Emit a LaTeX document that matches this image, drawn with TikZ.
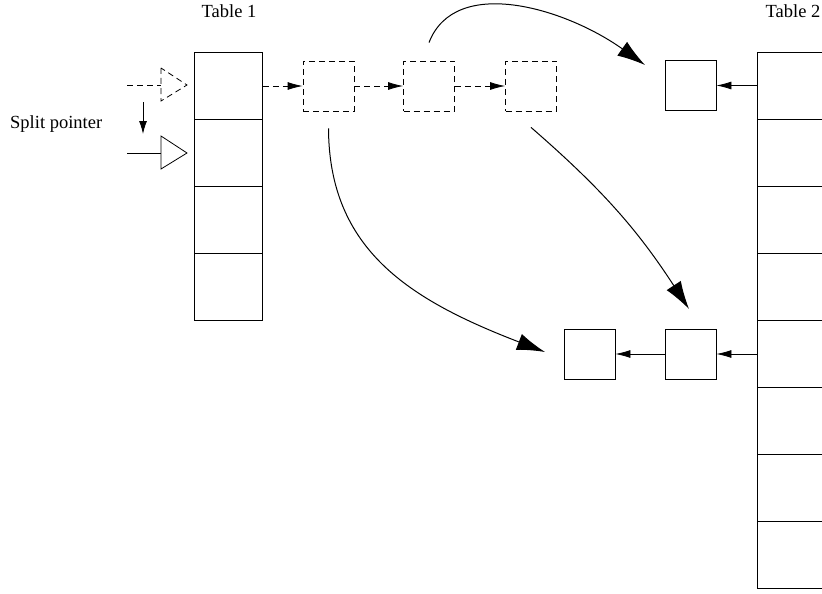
\documentclass[tikz,border=0pt]{standalone}
\usepackage{fontspec}
\setmainfont{Liberation Serif}
\usetikzlibrary{arrows.meta,calc}
\begin{document}
\begin{tikzpicture}[x=1pt,y=-1pt,
  cell/.style={draw,line width=0.9pt,minimum width=68pt,minimum height=67pt,inner sep=0pt,anchor=north west},
  sbox/.style={draw,line width=0.8pt,minimum width=51pt,minimum height=50pt,inner sep=0pt},
  dbox/.style={sbox,dash pattern=on 6pt off 4pt},
  small/.style={line width=0.8pt,-{Latex[length=15pt,width=8pt]}},
  big/.style={line width=1pt,-{Latex[length=28pt,width=17pt]}},
  lbl/.style={font=\fontsize{18.5}{22}\selectfont,inner sep=0pt}]
\useasboundingbox (0,0) rectangle (822,594);
% Table 1
\foreach \i in {1,...,4} {
  \node[cell] (ta\i) at (194,{52+67*(\i-1)}) {};
}
% Table 2 (clipped at right edge)
\begin{scope}
\clip (0,0) rectangle (822,594);
\foreach \i in {1,...,8} {
  \node[cell,minimum width=80pt] (tb\i) at (757,{52+67*(\i-1)}) {};
}
\end{scope}
\node[lbl,anchor=base] (l1) at (229,18) {Table 1};
\node[lbl,anchor=base] (l2) at (793,18) {Table 2};
\node[lbl,anchor=base west] (sp) at (10,128) {Split pointer};
% dashed chain
\node[dbox] (d1) at (328.5,86) {};
\node[dbox] (d2) at (429,86) {};
\node[dbox] (d3) at (531,86) {};
% solid boxes
\node[sbox] (s1) at (690.5,85.5) {};
\node[sbox] (s2) at (690.5,354) {};
\node[sbox] (s3) at (589.5,354) {};
% dashed arrows
\draw[small,dash pattern=on 6pt off 4pt] (ta1.east |- d1.west) -- (d1.west);
\draw[small,dash pattern=on 6pt off 4pt] (d1) -- (d2);
\draw[small,dash pattern=on 6pt off 4pt] (d2) -- (d3);
% table 2 to boxes
\draw[small] (tb1.west |- s1.east) -- (s1.east);
\draw[small] (tb5.west |- s2.east) -- (s2.east);
\draw[small] (s2) -- (s3);
% pointers
\coordinate (p1) at (127,85);
\coordinate (p2) at (127,153);
\draw[line width=0.8pt,dash pattern=on 6pt off 4pt] (p1) -- (161,85);
\draw[line width=0.8pt,dash pattern=on 6pt off 4pt] (161,68) -- (161,101) -- (187,85) -- cycle;
\draw[line width=0.8pt] (p2) -- (161,153);
\draw[line width=0.8pt] (161,136) -- (161,169) -- (187,153) -- cycle;
\coordinate (da) at (143,102);
\coordinate (db) at (143,134);
\draw[line width=0.9pt,-{Latex[length=13pt,width=8pt]}] (da) -- (db);
% curved arrows
\coordinate (c1s) at ([yshift=18pt]d2.north);
\coordinate (c1e) at (645,65);
\draw[big] (c1s) .. controls (455,-25) and (565,8) .. (c1e);
\coordinate (c2s) at ([yshift=-17pt]d1.south);
\coordinate (c2e) at (545,352);
\draw[big] (c2s) .. controls (329,250) and (410,300) .. (c2e);
\coordinate (c3s) at ([yshift=-16pt]d3.south);
\coordinate (c3e) at (689,309);
\draw[big] (c3s) to[bend left=8] (c3e);
\end{tikzpicture}
\end{document}
